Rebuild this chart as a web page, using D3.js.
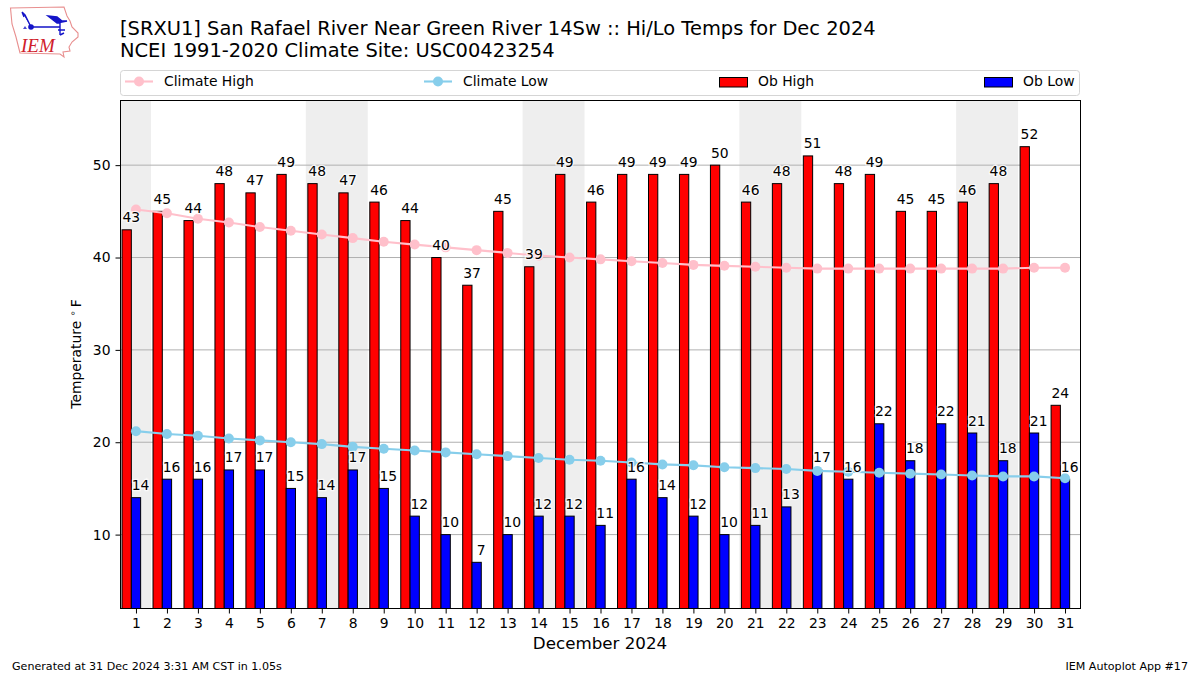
<!DOCTYPE html>
<html><head><meta charset="utf-8">
<script src="https://cdn.jsdelivr.net/npm/d3@7/dist/d3.min.js"></script>
<style>html,body{margin:0;padding:0;background:#fff}svg{display:block}text{font-family:"DejaVu Sans",sans-serif;fill:#000}</style>
</head><body><svg id="c" width="1200" height="675"></svg>
<script>
const days = d3.range(1, 32);
const obHigh = [43,45,44,48,47,49,48,47,46,44,40,37,45,39,49,46,49,49,49,50,46,48,51,48,49,45,45,46,48,52,24];
const obLow = [14,16,16,17,17,15,14,17,15,12,10,7,10,12,12,11,16,14,12,10,11,13,17,16,22,18,22,21,18,21,16];
const climateHigh = [45.2,44.8,44.2,43.8,43.3,42.9,42.5,42.1,41.7,41.4,41.1,40.8,40.5,40.2,40.0,39.8,39.6,39.4,39.2,39.1,39.0,38.9,38.8,38.8,38.8,38.8,38.8,38.8,38.8,38.9,38.9];
const climateLow = [21.2,20.9,20.7,20.4,20.2,20.0,19.8,19.5,19.3,19.1,18.9,18.7,18.5,18.3,18.1,18.0,17.8,17.6,17.5,17.3,17.2,17.1,16.9,16.8,16.7,16.6,16.5,16.4,16.3,16.3,16.1];
const weekendSpans = [[0.5,1.5],[6.5,8.5],[13.5,15.5],[20.5,22.5],[27.5,29.5]];
const yTicks = [10,20,30,40,50];
const legendItems = ["Climate High","Climate Low","Ob High","Ob Low"];
const titleLines = ["[SRXU1] San Rafael River Near Green River 14Sw :: Hi/Lo Temps for Dec 2024","NCEI 1991-2020 Climate Site: USC00423254"];

const svg = d3.select("#c");
const L=120.5,R=1080.5,T=100.5,B=608.5;
const x = d3.scaleLinear().domain([0.5,31.5]).range([L,R]);
const y = d3.scaleLinear().domain([2,57]).range([B,T]);
const dx = x(1.3)-x(1);

// logo
const logo = svg.append("g");
logo.append("path").attr("d","M10.5 8 L64 7 L67 16 L70 21 L72 27 L78 33 L78 37 L72 42 L69 47 L70 51 L63 52 L64 57 L60 54 L20 53 L18 45 L16 37 L12 24 Z")
  .attr("fill","#fff").attr("stroke","#e88f8f").attr("stroke-width",1.1);
logo.append("path").attr("d","M31 27 L60 27 M31 27 L25 15 L22 12 M22 12 L24 17 M60 21 L60 35 M48 16 L57 17 L62 21 L67 21 L57 23 Z M58 30 L65 30 M60 35 L64 33")
  .attr("fill","#1414c8").attr("stroke","#1414c8").attr("stroke-width",1.4);
logo.append("circle").attr("cx",31).attr("cy",27).attr("r",2.8).attr("fill","#1414c8");
logo.append("path").attr("d","M23 29 L25 26 L27 29 Z").attr("fill","#4a4ad0");
logo.append("text").attr("x",21).attr("y",52).text("IEM").style("font-family","'Liberation Serif',serif").style("font-style","italic").style("font-size","19px").style("fill","#d0202a");

// titles
svg.selectAll("text.title").data(titleLines).join("text").attr("class","title")
  .attr("x",120).attr("y",(d,i)=>35+i*22).style("font-size","19.45px").text(d=>d);

// legend
svg.append("rect").attr("x",120.5).attr("y",70.5).attr("width",959).attr("height",25).attr("rx",3)
  .attr("fill","#fff").attr("stroke","#d5d5d5");
const legendX=[125,424,719,984];
legendItems.forEach((t,i)=>{
  const lx=legendX[i];
  if(i<2){
    const c=i==0?"pink":"skyblue";
    svg.append("line").attr("x1",lx).attr("x2",lx+28).attr("y1",81.5).attr("y2",81.5).attr("stroke",c).attr("stroke-width",2.1);
    svg.append("circle").attr("cx",lx+14).attr("cy",81.5).attr("r",5).attr("fill",c);
  } else {
    svg.append("rect").attr("x",lx+.5).attr("y",77.5).attr("width",28).attr("height",9.5)
      .attr("fill",i==2?"red":"blue").attr("stroke","#000").attr("stroke-width",1);
  }
  svg.append("text").attr("x",lx+39).attr("y",86).style("font-size","13.9px").text(t);
});

// plot
const p = svg.append("g");
p.selectAll("rect.wk").data(weekendSpans).join("rect").attr("class","wk")
  .attr("x",d=>x(d[0])-0.5).attr("width",d=>x(d[1])-x(d[0])).attr("y",T).attr("height",B-T).attr("fill","#eeeeee");
p.selectAll("line.grid").data(yTicks).join("line").attr("class","grid")
  .attr("x1",L).attr("x2",R).attr("y1",d=>y(d)).attr("y2",d=>y(d)).attr("stroke","#b0b0b0").attr("stroke-width",1);
p.selectAll("rect.hi").data(days).join("rect").attr("class","hi")
  .attr("x",d=>x(d-0.45)).attr("width",dx).attr("y",(d,i)=>y(obHigh[i])).attr("height",(d,i)=>B-y(obHigh[i]))
  .attr("fill","red").attr("stroke","#000").attr("stroke-width",1);
p.selectAll("rect.lo").data(days).join("rect").attr("class","lo")
  .attr("x",d=>x(d-0.15)).attr("width",dx).attr("y",(d,i)=>y(obLow[i])).attr("height",(d,i)=>B-y(obLow[i]))
  .attr("fill","blue").attr("stroke","#000").attr("stroke-width",1);

[[climateHigh,"pink"],[climateLow,"skyblue"]].forEach(([vals,c])=>{
  p.append("path").datum(vals).attr("fill","none").attr("stroke",c).attr("stroke-width",2.1)
    .attr("d",d3.line().x((d,i)=>x(days[i])).y(d=>y(d)));
  p.selectAll(null).data(vals).join("circle").attr("cx",(d,i)=>x(days[i])).attr("cy",d=>y(d)).attr("r",5).attr("fill",c);
});

function labels(vals,off){
  p.selectAll(null).data(vals).join("text").attr("x",(d,i)=>x(days[i]+off)).attr("y",d=>y(d)-7.5)
    .attr("text-anchor","middle").style("font-size","13.9px").style("paint-order","stroke")
    .style("stroke","#fff").style("stroke-width","2.5px").style("stroke-opacity",0.75).text(d=>d);
}
labels(obHigh,-0.15); labels(obLow,0.15);

// axes
const ax = svg.append("g").attr("transform",`translate(0,${B})`)
  .call(d3.axisBottom(x).tickValues(days).tickFormat(d3.format("d")).tickSize(5).tickPadding(5));
const ay = svg.append("g").attr("transform",`translate(${L},0)`)
  .call(d3.axisLeft(y).tickValues(yTicks).tickSize(5).tickPadding(5));
[ax,ay].forEach(a=>{a.selectAll("text").style("font-size","13.9px").style("font-family","'DejaVu Sans'");a.select(".domain").remove();});
svg.append("rect").attr("x",L).attr("y",T).attr("width",R-L).attr("height",B-T).attr("fill","none").attr("stroke","#000").attr("stroke-width",1);

svg.append("text").attr("x",600).attr("y",649).attr("text-anchor","middle").style("font-size","16.7px").text("December 2024");
const yl = svg.append("text").attr("transform","translate(81,354) rotate(-90)").attr("text-anchor","middle").style("font-size","13.9px");
yl.append("tspan").text("Temperature ");
yl.append("tspan").attr("dy",-5).style("font-size","9.7px").text("∘");
yl.append("tspan").attr("dy",5).attr("dx",3).text("F");
svg.append("text").attr("x",12).attr("y",670).style("font-size","11.1px").text("Generated at 31 Dec 2024 3:31 AM CST in 1.05s");
svg.append("text").attr("x",1188).attr("y",670).attr("text-anchor","end").style("font-size","11.1px").text("IEM Autoplot App #17");
</script></body></html>
